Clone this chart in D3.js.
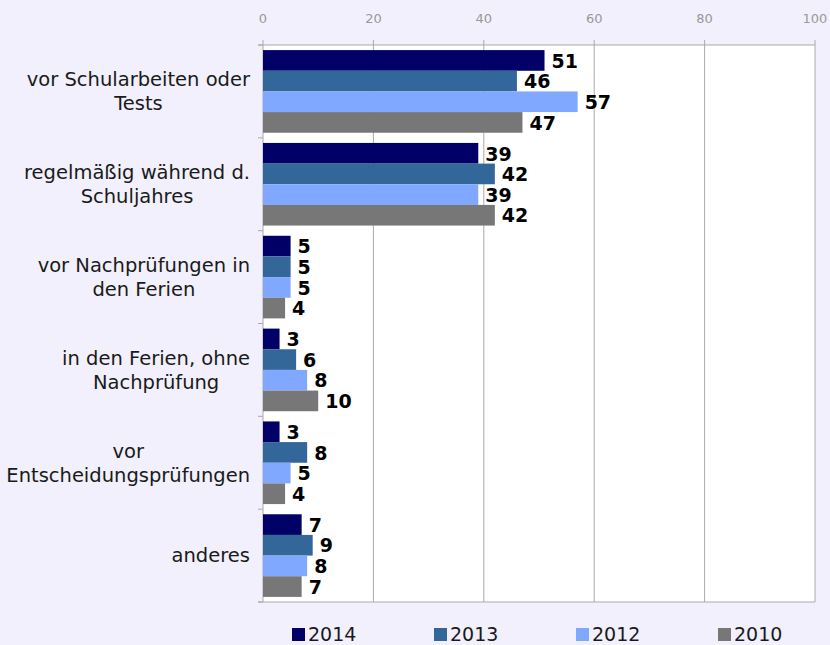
<!DOCTYPE html>
<html>
<head>
<meta charset="utf-8">
<script src="https://cdn.jsdelivr.net/npm/d3@7"></script>
<style>
body { margin: 0; background: #f1f0fc; }
</style>
</head>
<body>
<script>
var categories = [
  ["vor Schularbeiten oder", "Tests"],
  ["regelmäßig während d.", "Schuljahres"],
  ["vor Nachprüfungen in", "den Ferien"],
  ["in den Ferien, ohne", "Nachprüfung"],
  ["vor", "Entscheidungsprüfungen"],
  ["anderes"]
];
var years = ["2014", "2013", "2012", "2010"];
var colors = ["#000066", "#336699", "#80a8ff", "#777777"];
var v2014 = [51, 39, 5, 3, 3, 7];
var v2013 = [46, 42, 5, 6, 8, 9];
var v2012 = [57, 39, 5, 8, 5, 8];
var v2010 = [47, 42, 4, 10, 4, 7];
var xTicks = [0, 20, 40, 60, 80, 100];

var series = [v2014, v2013, v2012, v2010];

var svg = d3.select("body").append("svg")
    .attr("width", 830)
    .attr("height", 645),
    margin = {top: 45, left: 263, right: 15, bottom: 43},
    width = 830 - margin.left - margin.right,
    height = 645 - margin.top - margin.bottom,
    g = svg.append("g").attr("transform", "translate(" + margin.left + "," + margin.top + ")");

var x = d3.scaleLinear().domain([0, 100]).range([0, width]);
var y = d3.scaleBand().domain(d3.range(categories.length)).range([0, height]).paddingInner(0.11).paddingOuter(0.055);
var yi = d3.scaleBand().domain(d3.range(years.length)).range([0, y.bandwidth()]);
var step = height / categories.length;

g.append("rect").attr("width", width).attr("height", height).attr("fill", "#fff");

// grid
g.selectAll(".grid").data(xTicks).enter().append("line")
    .attr("x1", function(d) { return x(d); }).attr("x2", function(d) { return x(d); })
    .attr("y1", -5).attr("y2", height)
    .attr("stroke", "#aaa");
g.append("line").attr("x1", -5).attr("x2", width).attr("y1", 0).attr("y2", 0).attr("stroke", "#aaa");
g.append("line").attr("x1", -5).attr("x2", width).attr("y1", height).attr("y2", height).attr("stroke", "#aaa");
g.selectAll(".ytick").data(d3.range(categories.length + 1)).enter().append("line")
    .attr("x1", -5).attr("x2", 0)
    .attr("y1", function(d) { return d * step; }).attr("y2", function(d) { return d * step; })
    .attr("stroke", "#aaa");

g.selectAll(".xlab").data(xTicks).enter().append("text")
    .attr("x", function(d) { return x(d); })
    .attr("y", -22)
    .attr("text-anchor", "middle")
    .style("font", "13px 'DejaVu Sans', Verdana, sans-serif")
    .attr("fill", "#999")
    .text(function(d) { return d; });

// bars
var grp = g.selectAll(".cat").data(categories).enter().append("g")
    .attr("transform", function(d, i) { return "translate(0," + y(i) + ")"; });

series.forEach(function(s, k) {
  grp.append("rect")
      .attr("x", 0)
      .attr("y", yi(k))
      .attr("width", function(d, i) { return x(s[i]); })
      .attr("height", yi.bandwidth())
      .attr("fill", colors[k]);
  grp.append("text")
      .attr("x", function(d, i) { return x(s[i]) + 7; })
      .attr("y", yi(k) + yi.bandwidth() / 2)
      .attr("dy", "0.38em")
      .style("font", "bold 19px 'DejaVu Sans', Verdana, sans-serif")
      .attr("fill", "#000")
      .text(function(d, i) { return s[i]; });
});

// category labels: block right aligned, lines centered within block
grp.each(function(lines, i) {
  var t = d3.select(this).append("text")
      .attr("text-anchor", "middle")
      .style("font", "19.5px 'DejaVu Sans', Verdana, sans-serif")
      .attr("fill", "#1a1a1a");
  var spans = lines.map(function(l, j) {
    return t.append("tspan").attr("x", 0)
        .attr("y", y.bandwidth() / 2 + (j - (lines.length - 1) / 2) * 24)
        .attr("dy", "0.35em").text(l);
  });
  var w = d3.max(spans, function(s) { return s.node().getComputedTextLength(); });
  spans.forEach(function(s) { s.attr("x", -13 - w / 2); });
});

// legend
var leg = svg.append("g").attr("transform", "translate(292,628)");
years.forEach(function(yr, k) {
  var lg = leg.append("g").attr("transform", "translate(" + (k * 142) + ",0)");
  lg.append("rect").attr("width", 13).attr("height", 13).attr("fill", colors[k]);
  lg.append("text").attr("x", 16).attr("y", 13)
      .style("font", "19px 'DejaVu Sans', Verdana, sans-serif")
      .attr("fill", "#1a1a1a")
      .text(yr);
});
</script>
</body>
</html>
